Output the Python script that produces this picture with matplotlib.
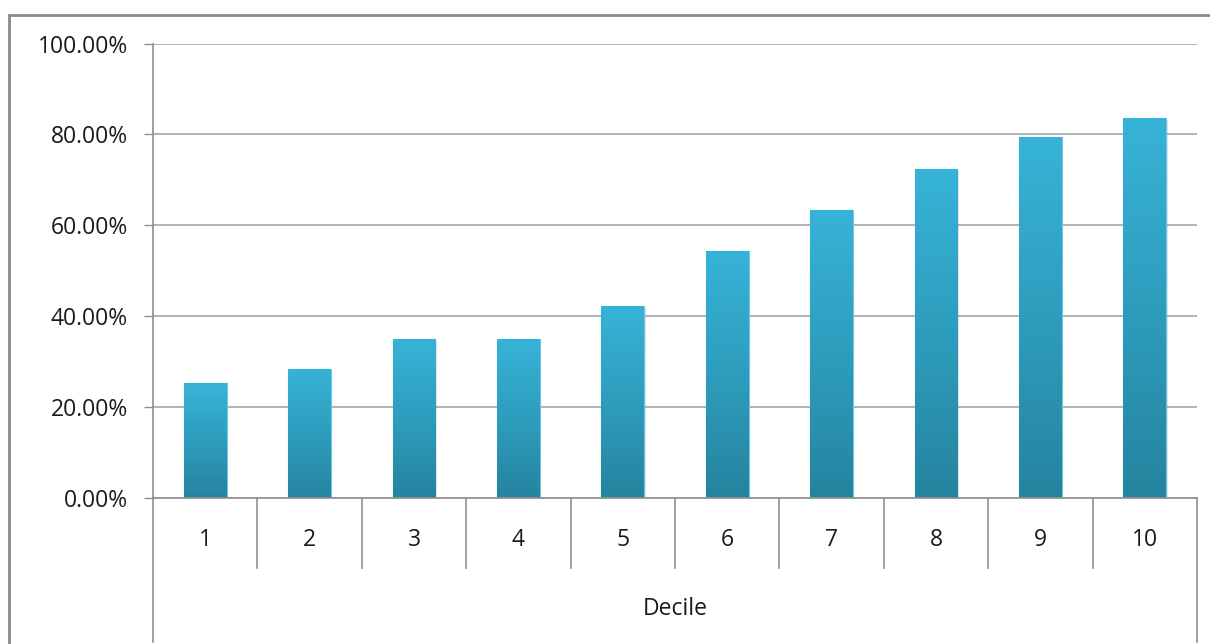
import numpy as np
import matplotlib
matplotlib.use("Agg")
import matplotlib.pyplot as plt
from matplotlib.patches import Rectangle
from matplotlib.colors import LinearSegmentedColormap
import matplotlib.patheffects as pe
from matplotlib.ticker import PercentFormatter

# Share of cases per decile (fraction of 1)
deciles = ["1", "2", "3", "4", "5", "6", "7", "8", "9", "10"]
share = [0.252, 0.283, 0.349, 0.349, 0.422, 0.543, 0.633, 0.723, 0.794, 0.836]
y_ticks = [0.0, 0.2, 0.4, 0.6, 0.8, 1.0]
x_title = "Decile"

plt.rcParams["font.family"] = ["Open Sans", "DejaVu Sans"]
TEXT = "#1a1a1a"
GRID = "#a6a6a6"
AXIS = "#8f8f8f"
FS = 16.5

W, H = 1210, 644
fig = plt.figure(figsize=(W / 100, H / 100), dpi=100)
fig.patch.set_facecolor("white")

# plot area in pixels: left 153, right 1197, top 43.7, zero line 497.7
left, right, top, base = 153, 1197, 43.7, 497.7
ax = fig.add_axes([left / W, (H - base) / H, (right - left) / W, (base - top) / H])
ax.set_facecolor("white")

x = np.arange(1, len(share) + 1)

# outer chart frame
fig.patches.append(Rectangle((9.3 / W, -0.2), 1.5, (H - 15) / H + 0.2,
                             transform=fig.transFigure, fill=False,
                             edgecolor="#8a8a8a", linewidth=2.0))

# gridlines
ax.set_yticks(y_ticks)
ax.yaxis.set_major_formatter(PercentFormatter(xmax=1, decimals=2))
ax.grid(axis="y", color=GRID, linewidth=1.2)
ax.set_axisbelow(True)
ax.tick_params(axis="y", length=6.5, width=1.0, color=AXIS, pad=11.5,
               labelsize=FS, labelcolor=TEXT)
ax.set_xticks([])

for s in ["top", "right", "bottom"]:
    ax.spines[s].set_visible(False)
ax.spines["left"].set_color(AXIS)
ax.spines["left"].set_linewidth(1.2)

# bars with a vertical gradient fill
bar_w = 0.41
bars = ax.bar(x, share, width=bar_w, color="#36b2d7", edgecolor="#6cc9e6",
              linewidth=0.8, zorder=3,
              path_effects=[pe.SimplePatchShadow(offset=(1.0, -1.0), alpha=0.2,
                                                 shadow_rgbFace="#7a7a7a"),
                            pe.Normal()])
cmap = LinearSegmentedColormap.from_list("bar", ["#25849f", "#2e9dbd", "#37b3d8"])
grad = np.linspace(0, 1, 256).reshape(-1, 1)
for b in bars:
    x0, w, h = b.get_x(), b.get_width(), b.get_height()
    im = ax.imshow(grad, cmap=cmap, origin="lower", aspect="auto",
                   extent=[x0, x0 + w, 0, h], zorder=4, interpolation="bilinear")
    im.set_clip_path(b)
ax.set_xlim(0.5, len(share) + 0.5)
ax.set_ylim(0, 1)

# category axis: baseline, group separators, labels
px = 1.0 / (base - top)  # one pixel in axes-fraction units
trans = ax.get_xaxis_transform()
ax.plot([0.5, len(share) + 0.5], [0, 0], color=AXIS, linewidth=1.2,
        transform=trans, clip_on=False, zorder=5)
sep_low = -(568 - base) * px
for b in np.arange(1.5, len(share), 1.0):
    ax.plot([b, b], [0, sep_low], color=AXIS, linewidth=1.2,
            transform=trans, clip_on=False)
edge_low = -(642 - base) * px
for b in [0.5, len(share) + 0.5]:
    ax.plot([b, b], [0, edge_low], color=AXIS, linewidth=1.2,
            transform=trans, clip_on=False)

for xi, lab in zip(x, deciles):
    ax.text(xi, -(540 - base) * px, lab, transform=trans, ha="center",
            va="center", fontsize=FS, color=TEXT)
ax.text((len(share) + 1) / 2, -(609 - base) * px, x_title, transform=trans,
        ha="center", va="center", fontsize=FS, color=TEXT)

fig.savefig("out.png", dpi=100, facecolor="white")
